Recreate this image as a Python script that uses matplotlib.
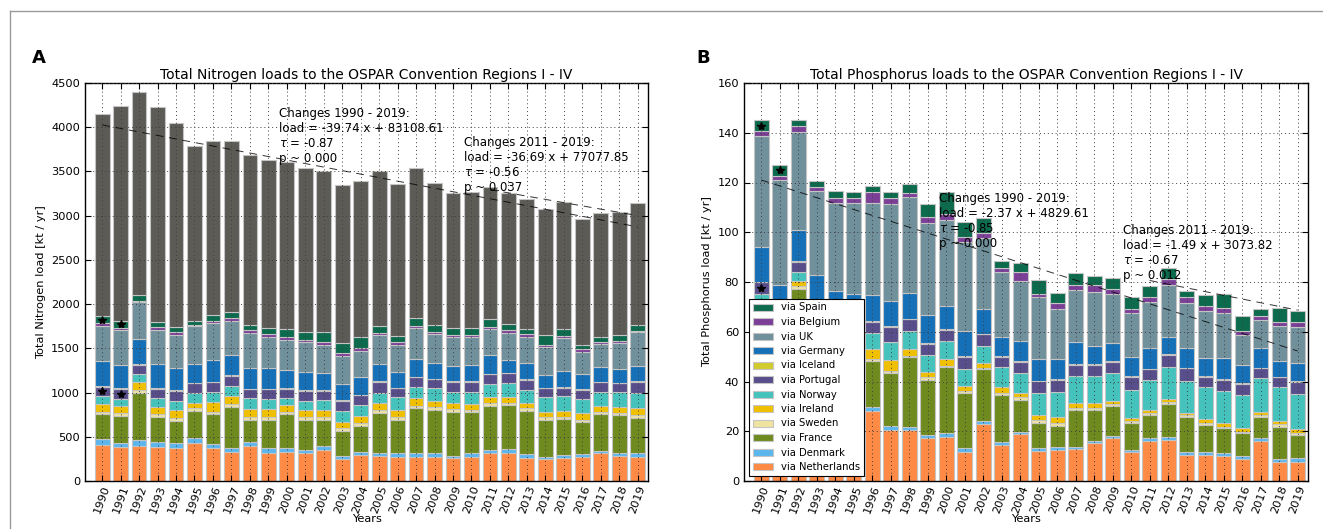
import numpy as np
import matplotlib.pyplot as plt
from matplotlib.lines import Line2D

years = list(range(1990, 2020))
countries = ["Netherlands", "Denmark", "France", "Sweden", "Ireland", "Norway",
             "Portugal", "Iceland", "Germany", "UK", "Belgium", "Spain"]
colors = ["#ff8a45", "#5cb6ee", "#6f8a1f", "#efe3a0", "#efbf00", "#46c2bd",
          "#584e8b", "#d2cb2e", "#1570b8", "#70909c", "#7b3f98", "#0c6a4d"]
other_color = "#5d5b56"

# nitrogen loads [kt/yr], bottom to top
n_netherlands = [407, 381, 400, 381, 377, 433, 369, 332, 396, 320, 324, 313, 351, 245, 294,
                 283, 268, 268, 275, 256, 275, 320, 320, 264, 245, 256, 268, 313, 283, 268]
n_denmark = [64, 52, 64, 60, 56, 57, 46, 45, 49, 49, 45, 38, 45, 38, 38,
             37, 45, 45, 38, 30, 38, 31, 38, 38, 30, 38, 37, 30, 30, 45]
n_france = [283, 302, 535, 279, 249, 302, 343, 456, 245, 321, 385, 339, 294, 286, 290,
            453, 377, 509, 490, 498, 463, 497, 501, 493, 415, 407, 358, 415, 433, 403]
n_sweden = [30, 38, 30, 34, 34, 30, 26, 34, 37, 37, 22, 30, 30, 27, 30,
            30, 37, 30, 37, 26, 27, 30, 27, 27, 30, 26, 27, 26, 19, 30]
n_ireland = [83, 79, 87, 79, 87, 64, 105, 94, 83, 83, 83, 83, 83, 75, 87,
             75, 76, 83, 68, 68, 64, 68, 68, 56, 64, 68, 75, 68, 75, 83]
n_norway = [94, 75, 90, 102, 105, 113, 121, 113, 125, 117, 76, 105, 113, 121, 120,
            121, 143, 132, 140, 132, 143, 151, 158, 151, 162, 166, 158, 158, 163, 170]
n_portugal = [106, 113, 106, 105, 110, 105, 106, 113, 101, 109, 105, 110, 105, 113, 113,
              124, 102, 105, 102, 113, 113, 109, 105, 113, 102, 94, 106, 106, 101, 124]
n_iceland = [6, 6, 6, 6, 6, 6, 6, 6, 6, 6, 6, 6, 6, 6, 6,
             6, 6, 6, 6, 6, 6, 6, 6, 6, 6, 6, 6, 6, 6, 6]
n_germany = [288, 266, 284, 273, 257, 213, 246, 232, 239, 232, 209, 212, 198, 186, 202,
             190, 182, 198, 174, 171, 183, 213, 145, 182, 145, 186, 171, 171, 156, 171]
n_uk = [392, 395, 418, 388, 370, 430, 415, 384, 396, 350, 339, 339, 313, 320, 294,
        332, 302, 350, 332, 324, 312, 290, 309, 302, 320, 366, 256, 256, 291, 381]
n_belgium = [30, 27, 19, 31, 30, 11, 30, 38, 30, 34, 30, 19, 37, 34, 26,
             19, 30, 30, 27, 27, 27, 30, 30, 30, 19, 27, 27, 26, 30, 19]
n_spain = [83, 71, 64, 64, 57, 49, 64, 60, 57, 76, 91, 87, 114, 106, 124,
           83, 72, 83, 75, 75, 75, 83, 64, 53, 113, 75, 49, 57, 64, 64]
n_other = [2280, 2439, 2299, 2423, 2310, 1971, 1971, 1941, 1926, 1896, 1888, 1854, 1820, 1794, 1768,
           1752, 1718, 1696, 1609, 1534, 1538, 1500, 1489, 1470, 1428, 1440, 1421, 1402, 1387, 1376]

# phosphorus loads [kt/yr], bottom to top
p_netherlands = [30.0, 22.2, 35.0, 27.2, 24.2, 24.2, 28.2, 20.5, 20.4, 17.2, 17.8, 11.5, 22.9, 14.5, 18.8,
                 12.1, 12.5, 12.7, 15.1, 17.2, 11.5, 16.2, 16.5, 10.5, 10.5, 10.1, 8.8, 16.2, 7.8, 7.8]
p_denmark = [2.0, 2.0, 2.0, 2.0, 2.0, 2.0, 1.6, 1.6, 1.4, 1.3, 1.4, 1.6, 1.2, 1.3, 1.0,
             1.3, 1.0, 1.1, 1.1, 1.0, 1.0, 1.2, 1.1, 1.3, 1.0, 1.3, 1.3, 1.2, 0.9, 1.3]
p_france = [27.0, 24.0, 40.2, 22.0, 21.0, 20.0, 18.5, 21.2, 27.9, 22.1, 26.5, 22.2, 20.8, 18.8, 12.8,
            10.1, 8.8, 14.8, 12.4, 12.0, 11.0, 9.1, 13.4, 14.1, 11.0, 9.8, 9.1, 8.2, 13.1, 9.4]
p_sweden = [1.5, 1.5, 1.3, 1.5, 1.5, 1.5, 0.9, 1.1, 0.6, 1.1, 0.5, 0.9, 0.7, 0.9, 1.0,
            1.0, 0.9, 0.9, 0.9, 0.8, 0.8, 0.7, 0.6, 0.6, 1.0, 0.6, 0.6, 0.9, 1.0, 0.9]
p_ireland = [5.0, 5.0, 2.0, 4.0, 4.0, 4.0, 3.9, 4.3, 2.8, 2.3, 2.9, 2.0, 1.7, 2.4, 1.7,
             2.0, 2.4, 2.0, 2.0, 1.3, 0.9, 1.4, 1.2, 1.0, 1.3, 1.7, 1.4, 1.4, 1.5, 1.4]
p_norway = [9.7, 6.0, 3.5, 6.0, 6.0, 6.0, 6.3, 7.1, 7.4, 6.7, 7.2, 6.7, 7.0, 7.8, 8.3,
            8.8, 10.3, 10.7, 10.7, 11.3, 11.4, 12.0, 12.9, 12.8, 13.1, 12.8, 13.4, 13.7, 13.4, 14.2]
p_portugal = [4.6, 5.0, 4.1, 5.0, 5.0, 5.0, 4.7, 6.1, 4.5, 4.4, 4.4, 5.1, 4.7, 4.3, 4.4,
              4.9, 4.7, 4.4, 4.4, 4.4, 5.1, 4.3, 5.0, 5.0, 4.1, 4.3, 4.4, 3.7, 4.0, 4.9]
p_iceland = [0.3, 0.3, 0.4, 0.3, 0.3, 0.3, 0.2, 0.3, 0.2, 0.3, 0.3, 0.3, 0.2, 0.3, 0.3,
             0.2, 0.3, 0.3, 0.3, 0.3, 0.4, 0.3, 0.4, 0.3, 0.3, 0.3, 0.3, 0.3, 0.3, 0.3]
p_germany = [13.9, 12.8, 12.5, 15.0, 12.4, 12.2, 10.5, 10.2, 10.4, 11.4, 9.4, 10.2, 10.0, 7.5, 8.0,
             8.7, 8.2, 8.9, 7.4, 7.1, 7.9, 8.4, 6.9, 7.8, 7.0, 8.7, 7.3, 8.0, 6.4, 7.4]
p_uk = [44.6, 42.2, 39.5, 33.6, 35.3, 36.5, 36.9, 39.0, 38.5, 37.0, 34.6, 35.4, 28.3, 26.2, 24.2,
        24.8, 20.1, 21.0, 21.8, 19.8, 17.7, 18.2, 20.8, 18.3, 19.2, 17.8, 12.1, 11.1, 13.9, 14.2]
p_belgium = [2.2, 1.8, 2.2, 1.7, 2.2, 2.0, 4.3, 2.3, 1.8, 2.3, 2.4, 2.0, 2.0, 1.6, 3.4,
             1.3, 2.2, 2.0, 2.7, 2.0, 1.3, 2.3, 2.3, 2.2, 2.0, 2.0, 1.6, 1.8, 1.8, 2.0]
p_spain = [4.2, 4.2, 2.3, 2.4, 2.7, 2.5, 2.6, 2.4, 3.4, 5.2, 8.9, 6.4, 6.2, 2.7, 3.7,
           5.8, 4.3, 4.7, 3.7, 4.3, 5.1, 4.3, 4.6, 2.6, 4.3, 5.7, 6.2, 2.5, 5.6, 4.6]

# years with estimated values for Spain and Portugal (marked with a star)
flagged_years = [1990, 1991]
flagged_countries = ["Spain", "Portugal"]

# trend lines (slope, intercept, first year) as drawn
n_trends = [(-39.74, 83108.61, 1990), (-36.69, 77077.85, 2011)]
p_trends = [(-2.37, 4837.3, 1990), (-1.49, 3077.0, 2011)]

n_text = ["Changes 1990 - 2019:\nload = -39.74 x + 83108.61\n$\\tau$ = -0.87\np ~ 0.000",
          "Changes 2011 - 2019:\nload = -36.69 x + 77077.85\n$\\tau$ = -0.56\np ~ 0.037"]
p_text = ["Changes 1990 - 2019:\nload = -2.37 x + 4829.61\n$\\tau$ = -0.85\np ~ 0.000",
          "Changes 2011 - 2019:\nload = -1.49 x + 3073.82\n$\\tau$ = -0.67\np ~ 0.012"]

n_series = [n_netherlands, n_denmark, n_france, n_sweden, n_ireland, n_norway,
            n_portugal, n_iceland, n_germany, n_uk, n_belgium, n_spain]
p_series = [p_netherlands, p_denmark, p_france, p_sweden, p_ireland, p_norway,
            p_portugal, p_iceland, p_germany, p_uk, p_belgium, p_spain]

fig = plt.figure(figsize=(13.23, 5.29), dpi=100)
axA = fig.add_axes([85 / 1323, 48 / 529, 563 / 1323, 398 / 529])
axB = fig.add_axes([744 / 1323, 48 / 529, 564 / 1323, 398 / 529])

x = np.arange(len(years))


def stacked(ax, series, extra=None):
    bottom = np.zeros(len(years))
    handles = []
    mids = {}
    for name, vals, col in zip(countries, series, colors):
        vals = np.array(vals, dtype=float)
        b = ax.bar(x, vals, 0.8, bottom=bottom, color=col, edgecolor="#c4c4c4",
                   linewidth=0.8, label="via " + name, zorder=1)
        handles.append(b)
        mids[name] = bottom + vals / 2
        bottom = bottom + vals
    if extra is not None:
        ax.bar(x, extra, 0.8, bottom=bottom, color=other_color, edgecolor="#c4c4c4",
               linewidth=0.8, zorder=1)
    for yr in flagged_years:
        i = years.index(yr)
        for c in flagged_countries:
            ax.plot(x[i], mids[c][i], marker="*", color="k", markersize=6,
                    linestyle="none", zorder=3)
    return handles


def trend(ax, trends):
    for slope, icpt, start in trends:
        yrs = np.array([start, years[-1]])
        ax.plot(yrs - years[0], slope * yrs + icpt, color="k", linewidth=0.7,
                dashes=(8, 6), alpha=0.8, zorder=4)


def style(ax, ymax, ystep, ylabel, title):
    ax.set_xlim(-0.93, len(years) - 1 + 0.56)
    ax.set_ylim(0, ymax)
    ax.set_yticks(np.arange(0, ymax + 1, ystep))
    ax.set_xticks(x)
    ax.set_xticklabels([str(y) for y in years], rotation=70, fontsize=8.2)
    ax.tick_params(axis="y", labelsize=8.2)
    ax.tick_params(axis="x", pad=2)
    ax.tick_params(direction="in", top=True, right=True, length=4)
    ax.grid(True, color="0.25", linestyle=(0, (1, 3)), linewidth=0.7)
    ax.set_axisbelow(False)
    ax.set_ylabel(ylabel, fontsize=8.2)
    ax.set_xlabel("Years", fontsize=8.2, labelpad=0)
    ax.set_title(title, fontsize=10, pad=3)
    for s in ax.spines.values():
        s.set_linewidth(1.0)


stacked(axA, n_series, extra=n_other)
trend(axA, n_trends)
style(axA, 4500, 500, "Total Nitrogen load [kt / yr]",
      "Total Nitrogen loads to the OSPAR Convention Regions I - IV")
axA.text(0.345, 0.94, n_text[0], transform=axA.transAxes, fontsize=8.5, va="top", ha="left")
axA.text(0.673, 0.868, n_text[1], transform=axA.transAxes, fontsize=8.5, va="top", ha="left")

handles = stacked(axB, p_series)
trend(axB, p_trends)
style(axB, 160, 20, "Total Phosphorus load [kt / yr]",
      "Total Phosphorus loads to the OSPAR Convention Regions I - IV")
axB.text(0.346, 0.726, p_text[0], transform=axB.transAxes, fontsize=8.5, va="top", ha="left")
axB.text(0.672, 0.646, p_text[1], transform=axB.transAxes, fontsize=8.5, va="top", ha="left")
leg = axB.legend(handles[::-1], ["via " + c for c in countries[::-1]], loc="lower left",
                 fontsize=7.2, labelspacing=0.45, handlelength=2.0, handleheight=0.7,
                 fancybox=False, framealpha=1, borderpad=0.4)
leg.get_frame().set_edgecolor("k")
leg.get_frame().set_linewidth(0.8)
leg.set_zorder(10)

fig.text(32 / 1323, 1 - 63 / 529, "A", fontsize=13, fontweight="bold", va="baseline")
fig.text(696 / 1323, 1 - 63 / 529, "B", fontsize=13, fontweight="bold", va="baseline")

# figure border (top and left edges)
fig.add_artist(Line2D([10 / 1323, 10 / 1323], [0, 1 - 10.7 / 529], transform=fig.transFigure,
                      color="#9a9a9a", linewidth=1))
fig.add_artist(Line2D([10 / 1323, 1], [1 - 10.7 / 529, 1 - 10.7 / 529], transform=fig.transFigure,
                      color="#9a9a9a", linewidth=1))

fig.savefig("out.png", dpi=100)
